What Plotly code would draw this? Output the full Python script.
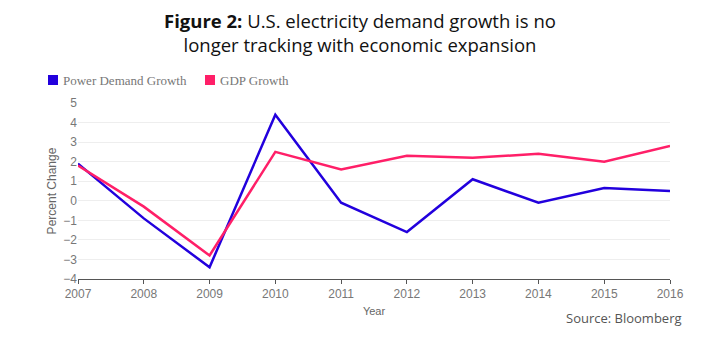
import plotly.graph_objects as go

years = [2007, 2008, 2009, 2010, 2011, 2012, 2013, 2014, 2015, 2016]
power_demand = [1.9, -0.9, -3.4, 4.4, -0.1, -1.6, 1.1, -0.1, 0.65, 0.5]
gdp = [1.8, -0.3, -2.8, 2.5, 1.6, 2.3, 2.2, 2.4, 2.0, 2.8]
y_ticks = [5, 4, 3, 2, 1, 0, -1, -2, -3, -4]
series = [("Power Demand Growth", power_demand, "#2200dd"),
          ("GDP Growth", gdp, "#ff1f68")]

# plot-area pixel geometry (used to place legend/title in paper coords)
L, R, T, B = 78, 670, 103, 279
W, H = R - L, B - T
def px(x): return (x - L) / W
def py(y): return (B - y) / H

fig = go.Figure()
for name, vals, color in series:
    fig.add_trace(go.Scatter(x=years, y=vals, mode="lines", name=name, showlegend=False,
                             line=dict(color=color, width=2.5)))

# custom legend (square swatches + serif labels)
legend_x = [48, 205]
shapes, annotations = [], []
for (name, _, color), lx in zip(series, legend_x):
    shapes.append(dict(type="rect", xref="paper", yref="paper",
                       x0=px(lx), x1=px(lx + 10), y0=py(85), y1=py(75),
                       fillcolor=color, line=dict(width=0)))
    annotations.append(dict(text=name, xref="paper", yref="paper", x=px(lx + 13), y=py(80),
                            xanchor="left", yanchor="middle", showarrow=False,
                            font=dict(family="Liberation Serif, DejaVu Serif, serif",
                                      size=13, color="#777777")))

annotations += [
    dict(text="<b>Figure 2:</b> U.S. electricity demand growth is no<br>longer tracking with economic expansion",
         xref="paper", yref="paper", x=px(360), y=py(32),
         xanchor="center", yanchor="middle", showarrow=False, align="center",
         font=dict(family="Open Sans, sans-serif", size=18.5, color="#111111")),
    dict(text="Source: Bloomberg", xref="paper", yref="paper",
         x=px(684), y=py(318), xanchor="right", yanchor="middle", showarrow=False,
         font=dict(family="Open Sans, sans-serif", size=13, color="#555555")),
]

fig.update_layout(
    width=720, height=338,
    margin=dict(l=L, r=720 - R, t=T, b=338 - B),
    paper_bgcolor="white", plot_bgcolor="white",
    showlegend=False,
    xaxis=dict(range=[2007, 2016], tickvals=years, ticks="outside", ticklen=4,
               tickcolor="#555555", showline=True, linecolor="#555555", linewidth=1,
               showgrid=False, zeroline=False,
               tickfont=dict(family="Liberation Sans, Arial, sans-serif", size=12, color="#777777"),
               title=dict(text="Year", standoff=6,
                          font=dict(family="Liberation Sans, Arial, sans-serif", size=11, color="#666666"))),
    yaxis=dict(range=[-4, 5], tickvals=y_ticks, showgrid=True, gridcolor="#eeeeee",
               zeroline=False, showline=False,
               tickfont=dict(family="Liberation Sans, Arial, sans-serif", size=12, color="#777777"),
               title=dict(text="Percent Change", standoff=4,
                          font=dict(family="Liberation Sans, Arial, sans-serif", size=12, color="#666666"))),
    shapes=shapes,
    annotations=annotations,
)

fig.write_html("out.html")
